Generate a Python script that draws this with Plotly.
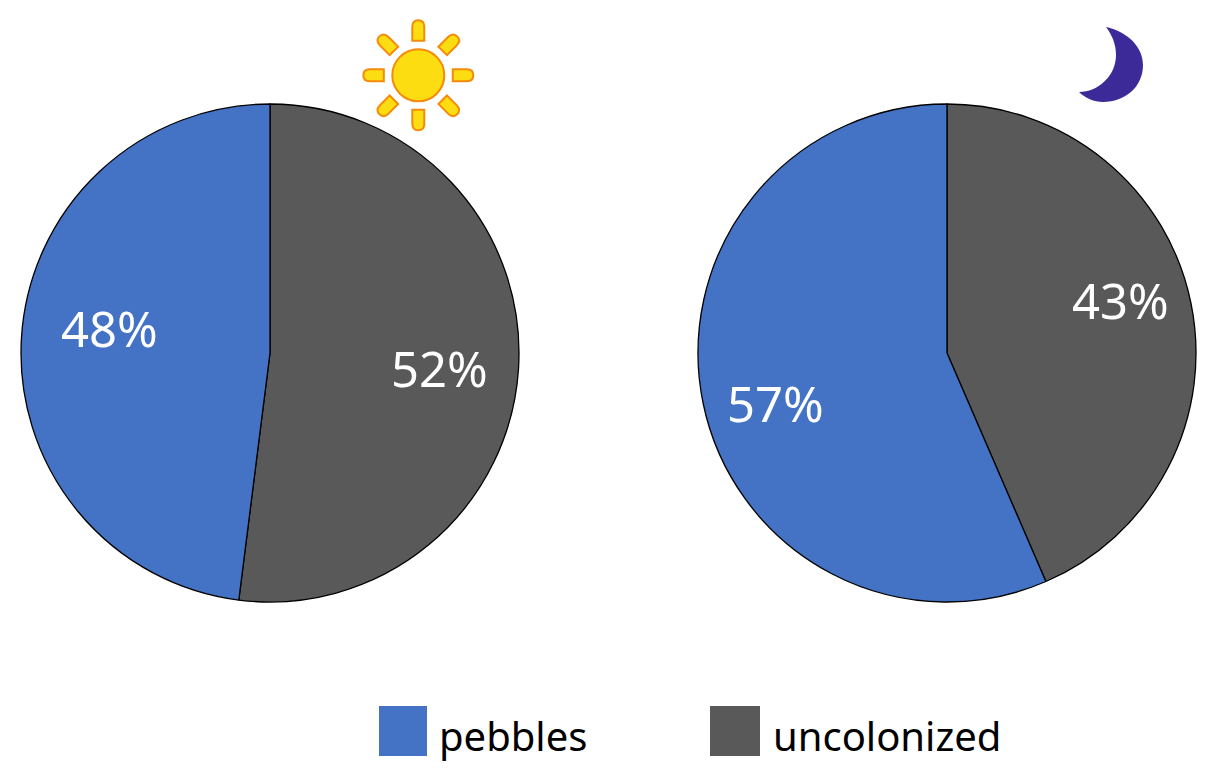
import math
import plotly.graph_objects as go

WIDTH = 1217
HEIGHT = 775

labels = ['uncolonized', 'pebbles']
day_values = [52, 48]
night_values = [43.5, 56.5]
day_text = ['52%', '48%']
night_text = ['43%', '57%']
colors = ['#595959', '#4472C4']


# picture pixels to paper coordinates
def px(x):
    return x / WIDTH


def py(y):
    return 1 - y / HEIGHT


def path(points):
    # points are (command, x, y, ...) tuples in pixels
    out = []
    for p in points:
        coords = []
        for i in range(1, len(p), 2):
            coords.append(f"{px(p[i]):.5f},{py(p[i + 1]):.5f}")
        out.append(p[0] + ' '.join(coords))
    return ' '.join(out) + ' Z'


def ray(cx, cy, angle):
    # one rounded sun ray, pointing along angle (degrees clockwise from top)
    a = math.radians(angle)
    ux, uy = math.sin(a), -math.cos(a)
    vx, vy = math.cos(a), math.sin(a)

    def pt(r, s):
        return cx + ux * r + vx * s, cy + uy * r + vy * s

    inner, shoulder, outer, half = 34.5, 48.5, 55, 6
    return path([
        ('M', *pt(inner, -half)),
        ('L', *pt(shoulder, -half)),
        ('C', *pt(outer - 1.5, -half), *pt(outer, -3), *pt(outer, 0)),
        ('C', *pt(outer, 3), *pt(outer - 1.5, half), *pt(shoulder, half)),
        ('L', *pt(inner, half)),
    ])


def pie_domain(cx, cy, r):
    return dict(x=[px(cx - r), px(cx + r)], y=[py(cy + r), py(cy - r)])


fig = go.Figure()

for values, cx in [(day_values, 270), (night_values, 947)]:
    fig.add_trace(go.Pie(
        labels=labels,
        values=values,
        sort=False,
        direction='clockwise',
        rotation=0,
        textinfo='none',
        marker=dict(colors=colors, line=dict(color='black', width=1.3)),
        domain=pie_domain(cx, 353, 249),
        showlegend=False
    ))

shapes = []

# sun
sun_x, sun_y = 418.3, 75.3
sun_line = dict(color='#F58A0B', width=2)
for angle in range(0, 360, 45):
    shapes.append(dict(type='path', xref='paper', yref='paper', path=ray(sun_x, sun_y, angle),
                       fillcolor='#FBDD11', line=sun_line))
shapes.append(dict(type='circle', xref='paper', yref='paper',
                   x0=px(sun_x - 26), x1=px(sun_x + 26), y0=py(sun_y + 26), y1=py(sun_y - 26),
                   fillcolor='#FBDD11', line=sun_line))

# moon
shapes.append(dict(type='path', xref='paper', yref='paper', fillcolor='#3B2A98', line=dict(width=0),
                   path=path([
                       ('M', 1106, 27),
                       ('C', 1128, 32, 1143, 47, 1143, 65),
                       ('C', 1143, 87, 1125, 102, 1103, 102),
                       ('C', 1094, 102, 1085, 98, 1079, 92),
                       ('C', 1098, 92, 1116, 76, 1116, 55),
                       ('C', 1116, 44, 1112, 35, 1106, 27),
                   ])))

# legend swatches
for x0, x1, color in [(379, 427, colors[1]), (710, 760, colors[0])]:
    shapes.append(dict(type='rect', xref='paper', yref='paper', x0=px(x0), x1=px(x1),
                       y0=py(756), y1=py(706), fillcolor=color, line=dict(width=0)))

annotations = []


def add_text(text, x, y, size, color, anchor='center'):
    annotations.append(dict(text=text, x=px(x), y=py(y), xref='paper', yref='paper', showarrow=False,
                            xanchor=anchor, yanchor='middle', font=dict(size=size, color=color)))


add_text(day_text[1], 110, 328, 49, 'white')
add_text(day_text[0], 439, 368, 49, 'white')
add_text(night_text[1], 775, 403, 49, 'white')
add_text(night_text[0], 1120, 300, 49, 'white')
add_text(labels[1], 437, 735, 40, 'black', 'left')
add_text(labels[0], 771, 735, 40, 'black', 'left')

fig.update_layout(
    width=WIDTH,
    height=HEIGHT,
    margin=dict(l=0, r=0, t=0, b=0),
    paper_bgcolor='white',
    font=dict(family='Noto Sans'),
    shapes=shapes,
    annotations=annotations
)

fig.write_html("out.html", config=dict(displayModeBar=False),
               post_script="document.body.style.margin='0';document.body.style.overflow='hidden';")
